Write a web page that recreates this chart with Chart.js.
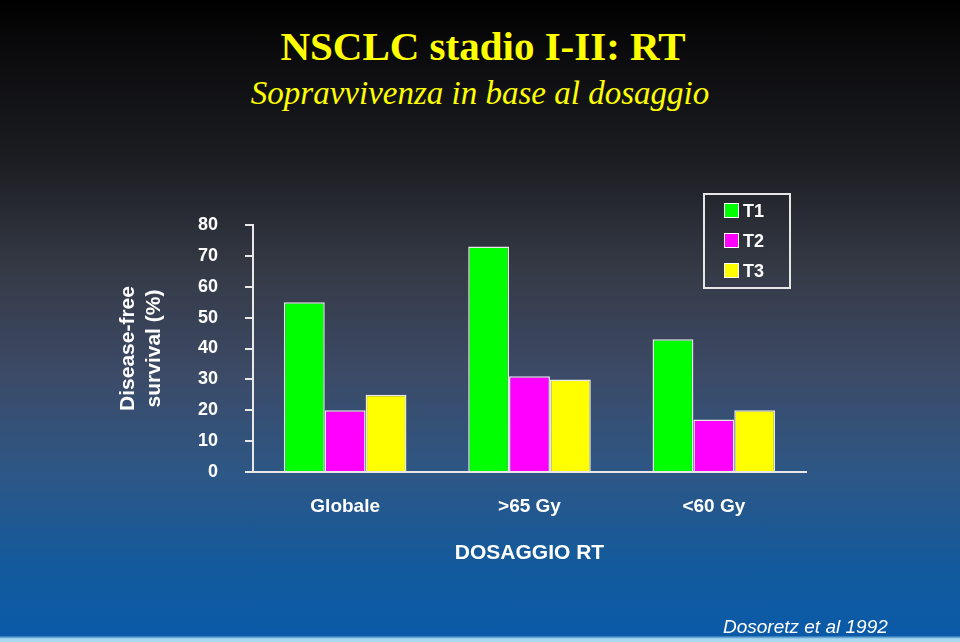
<!DOCTYPE html>
<html>
<head>
<meta charset="utf-8">
<script src="https://cdn.jsdelivr.net/npm/chart.js@4"></script>
<style>
  html, body { margin: 0; padding: 0; }
  body {
    width: 960px; height: 642px; position: relative; overflow: hidden;
    background: linear-gradient(to bottom, #000000 0%, #0b0b0d 8%, #1c1d22 25%, #353a46 42%, #3c4a66 58%, #2d5786 74%, #135a9c 88%, #0a5aa8 99%, #a8d8f0 99.5%);
    font-family: "Liberation Sans", Arial, sans-serif;
  }
  #title { position: absolute; left: 0; width: 966px; top: 22px; text-align: center;
    font-family: "Liberation Serif", "Times New Roman", serif; font-weight: bold; font-size: 41px; color: #ffff00; }
  #subtitle { position: absolute; left: 0; width: 960px; top: 75px; text-align: center;
    font-family: "Liberation Serif", "Times New Roman", serif; font-style: italic; font-size: 33px; color: #ffff00; }
  #note { position: absolute; left: 723px; top: 616px; font-style: italic; font-size: 19px; color: #ffffff; }
  #myChart { position: absolute; left: 0; top: 0; }
  #legend { position: absolute; left: 703px; top: 193px; width: 84px; height: 92px;
    border: 2px solid #e6e6e6; box-sizing: content-box; }
  .item { position: absolute; left: 19px; height: 20px; color: #fff; font-weight: bold; font-size: 18px; line-height: 20px; }
  .item span.box { display: inline-block; width: 13px; height: 13px; border: 1px solid #fff; vertical-align: -1px; margin-right: 4px; }
</style>
</head>
<body>
<div id="title">NSCLC stadio I-II: RT</div>
<div id="subtitle">Sopravvivenza in base al dosaggio</div>
<canvas id="myChart" width="960" height="642"></canvas>
<div id="legend"></div>
<div id="note">Dosoretz et al 1992</div>
<script>
const categories = ["Globale", ">65 Gy", "<60 Gy"];
const seriesNames = ["T1", "T2", "T3"];
const t1 = [55, 73, 43];
const t2 = [20, 31, 17];
const t3 = [25, 30, 20];
const colors = ["#00ff00", "#ff00ff", "#ffff00"];

const ctx = document.getElementById("myChart");
const chart = new Chart(ctx, {
  type: "bar",
  data: {
    labels: categories,
    datasets: [t1, t2, t3].map((d, i) => ({
      label: seriesNames[i],
      data: d,
      backgroundColor: colors[i],
      borderColor: "#e8e8e8",
      borderWidth: 1.5,
      categoryPercentage: 0.665,
      barPercentage: 1,
    })),
  },
  options: {
    responsive: false,
    animation: false,
    layout: { padding: { left: 104, right: 154, top: 225, bottom: 76 } },
    plugins: { legend: { display: false }, tooltip: { enabled: false } },
    scales: {
      y: {
        min: 0,
        max: 80,
        afterFit: (scale) => { scale.width = 149; },
        ticks: { stepSize: 10, color: "#fff", padding: 27, font: { family: "Liberation Sans", size: 18, weight: "bold" } },
        grid: { display: true, drawOnChartArea: false, drawTicks: true, tickLength: 8, color: "#e8e8e8", lineWidth: 2 },
        border: { display: true, color: "#e8e8e8", width: 2 },
        title: {
          display: true,
          text: ["Disease-free", "survival (%)"],
          color: "#fff",
          padding: { top: 12, bottom: 0 },
          font: { family: "Liberation Sans", size: 21, weight: "bold", lineHeight: 1.2 },
        },
      },
      x: {
        ticks: { color: "#fff", padding: 23, font: { family: "Liberation Sans", size: 19, weight: "bold" } },
        grid: { display: false, drawTicks: false },
        border: { display: true, color: "#e8e8e8", width: 2 },
        title: {
          display: true,
          text: "DOSAGGIO RT",
          color: "#fff",
          padding: { top: 0, bottom: 0 },
          font: { family: "Liberation Sans", size: 21, weight: "bold", lineHeight: 1.2 },
        },
      },
    },
  },
});

// legend box
const legend = document.getElementById("legend");
chart.data.datasets.forEach((ds, i) => {
  const div = document.createElement("div");
  div.className = "item";
  div.style.top = (6 + i * 30) + "px";
  div.innerHTML = '<span class="box" style="background:' + ds.backgroundColor + '"></span>' + ds.label;
  legend.appendChild(div);
});
</script>
</body>
</html>
